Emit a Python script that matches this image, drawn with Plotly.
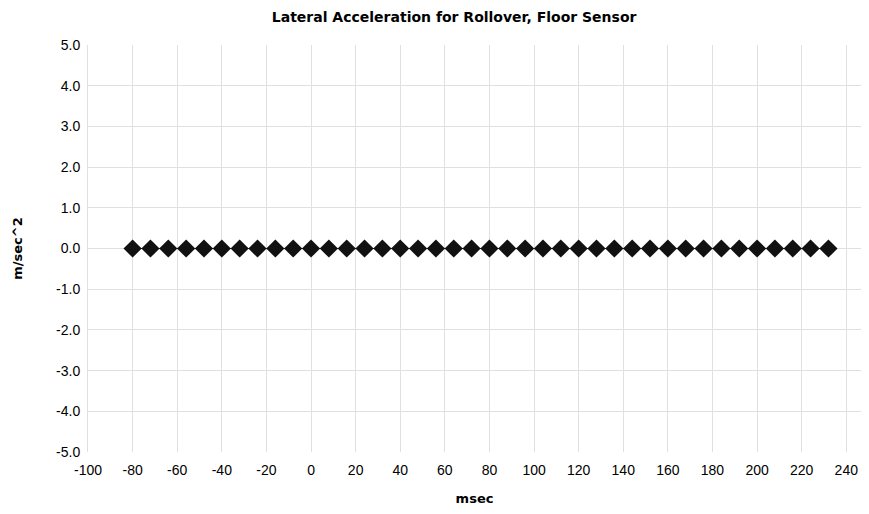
import plotly.graph_objects as go

time_ms = list(range(-80, 233, 8))
accel = [0.0] * len(time_ms)

x_ticks = list(range(-100, 241, 20))
x_labels = [str(v) for v in x_ticks]
y_ticks = [-5, -4, -3, -2, -1, 0, 1, 2, 3, 4, 5]
y_labels = ["%.1f" % v for v in y_ticks]

bold_font = "DejaVu Sans, sans-serif"

fig = go.Figure()
fig.add_trace(go.Scatter(
    x=time_ms, y=accel, mode="lines+markers",
    line=dict(color="#222222", width=1),
    marker=dict(symbol="diamond", size=14, color="#111111"),
))

# page body has an 8px margin, so the figure is sized to fit inside it
fig.update_layout(
    width=853, height=498,
    margin=dict(l=80, r=0, t=37, b=54),
    paper_bgcolor="white", plot_bgcolor="white",
    showlegend=False,
    font=dict(family="Liberation Sans, Arial, sans-serif", color="black", size=14),
    title=dict(text="<b>Lateral Acceleration for Rollover, Floor Sensor</b>",
               x=0.523, xanchor="center", y=0.982, yanchor="middle",
               font=dict(size=14, family=bold_font)),
)
fig.update_xaxes(
    range=[-100, 246.6], tickvals=x_ticks, ticktext=x_labels,
    showgrid=True, gridcolor="#e0e0e0", gridwidth=1,
    zeroline=False, showline=False, ticks="outside", ticklen=5, tickcolor="white",
    automargin=False,
    title=dict(text="<b>msec</b>", font=dict(size=13, family=bold_font), standoff=20),
)
fig.update_yaxes(
    range=[-5, 5], tickvals=y_ticks, ticktext=y_labels,
    showgrid=True, gridcolor="#e0e0e0", gridwidth=1,
    zeroline=False, showline=True, linecolor="#e0e0e0", ticks="outside", ticklen=4,
    tickcolor="white", automargin=False,
    title=dict(text="<b>m/sec^2</b>", font=dict(size=13, family=bold_font), standoff=30),
)

fig.write_html("out.html")
